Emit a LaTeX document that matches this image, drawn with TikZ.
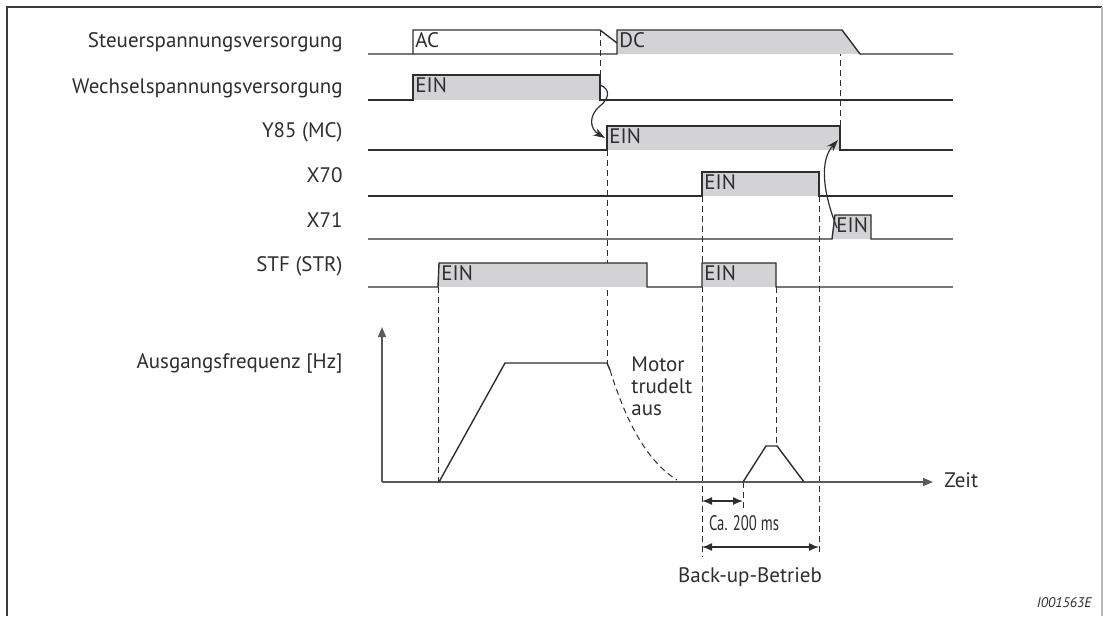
\documentclass[tikz,border=0pt]{standalone}
\usepackage{fontspec}
\setmainfont{PT Sans}
\usetikzlibrary{arrows.meta, positioning, calc}
\usepackage{xcolor}
\definecolor{SigLine}{HTML}{2E2E2E}
\definecolor{SigFill}{HTML}{D3D3D5}
\definecolor{AxisGray}{HTML}{5A5A5A}
\definecolor{FrameDark}{HTML}{3A3A3A}
\definecolor{FrameLight}{HTML}{B8B8B8}
\tikzset{
    % Signal styles
    signal/.style={
        draw=SigLine,
        line width=0.7pt,
        line join=miter
    },
    onbox/.style={
        fill=SigFill,
        draw=none
    },
    guide/.style={
        draw=SigLine,
        line width=0.5pt,
        dash pattern=on 3pt off 2pt
    },
    % Axis and arrow styles
    axis/.style={
        draw=AxisGray,
        line width=0.7pt,
        -{Triangle[width=4pt, length=5pt]}
    },
    dimarrow/.style={
        draw=SigLine,
        line width=0.7pt,
        {Latex[width=4pt, length=5pt]}-{Latex[width=4pt, length=5pt]}
    },
    curvearrow/.style={
        draw=SigLine,
        line width=0.6pt,
        -{Stealth[width=4pt, length=6pt]}
    },
    % Text styles
    siglabel/.style={
        anchor=east,
        inner sep=0pt,
        text=SigLine,
        font=\fontsize{10.5}{12}\selectfont
    },
    boxtext/.style={
        anchor=north west,
        inner sep=1pt,
        text=SigLine,
        font=\fontsize{10.5}{12}\selectfont
    },
    note/.style={
        inner sep=0pt,
        text=SigLine,
        font=\fontsize{10.5}{11}\selectfont
    }
}

\begin{document}
\begin{tikzpicture}[x=0.5pt, y=-0.5pt]
    \useasboundingbox (0,0) rectangle (1103,616);

    % Frame
    \draw[FrameDark, line width=0.8pt] (7,616) -- (7,7) -- (1102,7);
    \draw[FrameLight, line width=0.8pt] (1102,7) -- (1102,616);

    % Signal names
    \node[siglabel] (lsteuer) at (343,42) {Steuerspannungsversorgung};
    \node[siglabel] (lwechsel) at (343,88) {Wechselspannungsversorgung};
    \node[siglabel] (ly85) at (343,132) {Y85 (MC)};
    \node[siglabel] (lx70) at (343,175) {X70};
    \node[siglabel] (lx71) at (343,220) {X71};
    \node[siglabel] (lstf) at (343,266) {STF (STR)};
    \node[siglabel] (lfreq) at (343,363) {Ausgangsfrequenz [Hz]};

    % Dashed guides
    \draw[guide] (600,30) -- (600,100);
    \draw[guide] (840,30) -- (840,126);
    \draw[guide] (607,150) -- (607,363);
    \draw[guide] (438,287) -- (438,482);
    \draw[guide] (702,196) -- (702,557);
    \draw[guide] (819,196) -- (819,553);
    \draw[guide] (776,287) -- (776,446);
    \draw[guide] (743,482) -- (743,510);

    % Steuerspannungsversorgung
    \fill[onbox] (617,30) -- (842,30) -- (860,54) -- (617,54) -- cycle;
    \draw[signal] (413,54) -- (413,30) -- (600,30) -- (617,43);
    \draw[signal] (368,54) -- (617,54) -- (617,30) -- (842,30) -- (860,54) -- (953,54);
    \node[boxtext] (ac) at (413,30) {AC};
    \node[boxtext] (dc) at (617,30) {DC};

    % Wechselspannungsversorgung
    \fill[onbox] (413,75) rectangle (600,100);
    \draw[signal] (368,100) -- (413,100) -- (413,75) -- (600,75) -- (600,100) -- (953,100);
    \node[boxtext] (einw) at (413,75) {EIN};

    % Y85 (MC)
    \fill[onbox] (607,126) rectangle (840,150);
    \draw[signal] (368,150) -- (607,150) -- (607,126) -- (840,126) -- (840,150) -- (953,150);
    \node[boxtext] (einy) at (607,126) {EIN};

    % X70
    \fill[onbox] (702,172) rectangle (819,196);
    \draw[signal] (368,196) -- (702,196) -- (702,172) -- (819,172) -- (819,196) -- (953,196);
    \node[boxtext] (einx70) at (702,172) {EIN};

    % X71
    \fill[onbox] (835,215) -- (871,215) -- (871,239) -- (832,239) -- cycle;
    \draw[signal] (368,239) -- (832,239) -- (835,215) -- (871,215) -- (871,239) -- (953,239);
    \node[boxtext] (einx71) at (834,215) {EIN};

    % STF (STR)
    \fill[onbox] (439,263) rectangle (647,287);
    \fill[onbox] (702,263) rectangle (776,287);
    \draw[signal] (368,287) -- (438,287) -- (439,263) -- (647,263) -- (647,287) -- (702,287)
        -- (702,263) -- (776,263) -- (776,287) -- (953,287);
    \node[boxtext] (einstf) at (439,263) {EIN};
    \node[boxtext] (einstf2) at (702,263) {EIN};

    % Switching sequence
    \coordinate (woff) at (600,85);
    \coordinate (yon) at (605,138);
    \coordinate (x71on) at (837,228);
    \coordinate (yoff) at (838,140);
    \draw[curvearrow] (woff) .. controls (611,89) and (609,99) .. (600,106)
        .. controls (588,116) and (590,129) .. (yon);
    \draw[curvearrow] (x71on) .. controls (822,190) and (820,160) .. (yoff);

    % Output frequency
    \coordinate (origin) at (382,482);
    \coordinate (ytop) at (382,327);
    \coordinate (xend) at (933,482);
    \draw[axis] (origin) -- (ytop);
    \draw[axis] (origin) -- (xend);
    \node[note, anchor=west] (zeit) at (944,480) {Zeit};
    \draw[signal] (439,482) -- (505,363) -- (607,363) -- (610,370);
    \draw[guide] (610,370) .. controls (625,418) and (645,460) .. (677,480);
    \node[note, anchor=north west, align=left] (coast) at (631,356) {Motor\\trudelt\\aus};
    \draw[signal] (743,482) -- (766,446) -- (777,446) -- (804,482);

    % Back-up timing
    \coordinate (bstart) at (702,501);
    \coordinate (bdelay) at (743,501);
    \coordinate (cstart) at (702,547);
    \coordinate (cend) at (819,547);
    \draw[dimarrow] (bstart) -- (bdelay);
    \node[note] (delay) at (744,523) {\scalebox{0.7}[1]{Ca. 200 ms}};
    \draw[dimarrow] (cstart) -- (cend);
    \node[note] (backup) at (750,577) {Back-up-Betrieb};

    % Figure number
    \node[note, anchor=east, font=\fontsize{7}{8}\selectfont\itshape] (fignum) at (1092,603) {I001563E};
\end{tikzpicture}
\end{document}
